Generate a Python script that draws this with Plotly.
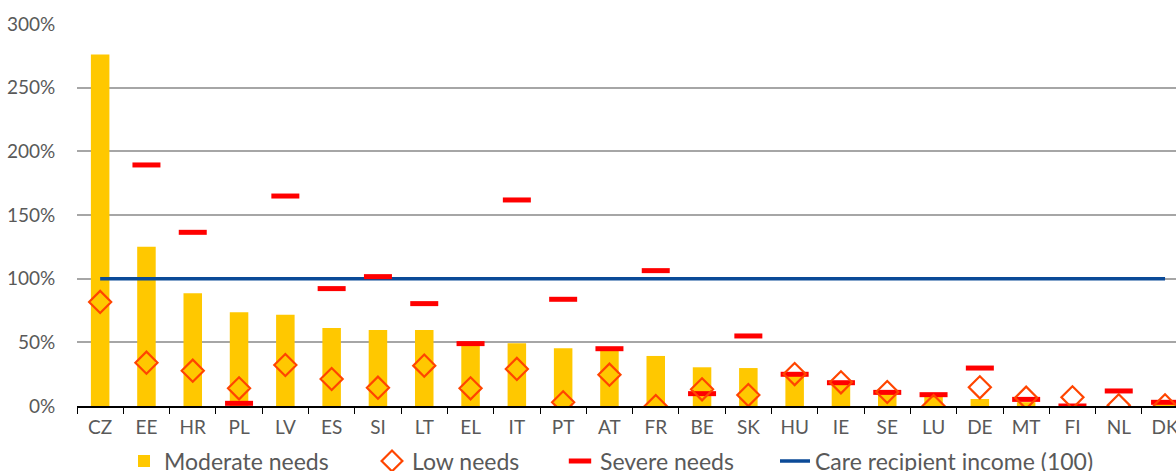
import plotly.graph_objects as go

countries = ["CZ", "EE", "HR", "PL", "LV", "ES", "SI", "LT", "EL", "IT", "PT", "AT",
             "FR", "BE", "SK", "HU", "IE", "SE", "LU", "DE", "MT", "FI", "NL", "DK"]
moderate = [276, 125, 88.5, 73.6, 71.7, 61.3, 59.7, 59.7, 49.5, 49.2, 45.3, 45,
            39.3, 30.4, 29.8, 24.5, 18, 10, 7.5, 5.5, 3, 0, 0, 2]
low = [81.7, 34, 27.7, 13.9, 32.2, 21.2, 14.4, 31.7, 13.9, 29.1, 2.9, 24.6,
       0, 13.1, 8.6, 25.1, 18.6, 11, 0, 14.7, 6.5, 6.8, 0.5, 0.5]
severe = [None, 189.3, 136.4, 2.1, 164.9, 92.2, 101.6, 80.4, 49, 161.8, 83.8, 45,
          106.3, 9.7, 55, 24.9, 18.3, 10.7, 8.9, 29.8, 5.2, 0, 11.8, 2.9]
care_income = [100] * len(countries)
y_ticks = [0, 50, 100, 150, 200, 250, 300]
y_tick_labels = ["0%", "50%", "100%", "150%", "200%", "250%", "300%"]

FONT = "Lato"
TXT = "#595959"

fig = go.Figure()
fig.add_trace(go.Bar(x=countries, y=moderate, name="Moderate needs",
                     marker=dict(color="#FFC800", line=dict(width=0)),
                     width=0.4, legend="legend"))
fig.add_trace(go.Scatter(x=countries, y=care_income, name="Care recipient income (100)",
                         mode="lines", line=dict(color="#0B4A97", width=3.5),
                         legend="legend4"))
fig.add_trace(go.Scatter(x=countries, y=severe, name="Severe needs", mode="markers",
                         marker=dict(symbol="line-ew", size=20,
                                     line=dict(color="#FF0000", width=5)),
                         legend="legend3"))
fig.add_trace(go.Scatter(x=countries, y=low, name="Low needs", mode="markers",
                         marker=dict(symbol="diamond-open", size=17, color="#FF4500",
                                     line=dict(color="#FF4500", width=2.2)),
                         legend="legend2"))

W, H = 1176, 471
L, T, B = 77, 24, 65
plot_w = W - L
plot_h = H - T - B
cat_w = 46.3
xmax = -0.5 + plot_w / cat_w

def lx(px):
    return (px - L) / plot_w

ly = -(461 - (H - B)) / plot_h
leg_common = dict(orientation="h", yanchor="middle", xanchor="left",
                  font=dict(family=FONT, size=23, color=TXT),
                  bgcolor="rgba(0,0,0,0)")

fig.update_layout(
    width=W, height=H,
    margin=dict(l=L, r=0, t=T, b=B, autoexpand=False),
    plot_bgcolor="white", paper_bgcolor="white",
    font=dict(family=FONT, color=TXT),
    showlegend=True,
    legend=dict(x=lx(124), y=ly, **leg_common),
    legend2=dict(x=lx(372), y=ly, **leg_common),
    legend3=dict(x=lx(560), y=ly, **leg_common),
    legend4=dict(x=lx(775), y=ly, **leg_common),
)
fig.update_xaxes(type="category", range=[-0.5, xmax], showline=True, linecolor="black",
                 linewidth=1.5, ticks="outside", tickson="boundaries", ticklen=6,
                 tickcolor="black", tickwidth=1.2, showgrid=False, ticklabelstandoff=3,
                 tickfont=dict(family=FONT, size=19, color=TXT))
fig.update_yaxes(range=[0, 300], tickvals=y_ticks, ticktext=y_tick_labels,
                 showgrid=True, gridcolor="#A6A6A6", gridwidth=1.5, zeroline=False,
                 showline=False, ticks="outside", ticklen=17,
                 tickcolor="rgba(0,0,0,0)",
                 tickfont=dict(family=FONT, size=19, color=TXT))

fig.write_html(
    "out.html",
    config={"displayModeBar": False},
    post_script="document.body.style.margin='0';document.body.style.overflow='hidden';",
)
